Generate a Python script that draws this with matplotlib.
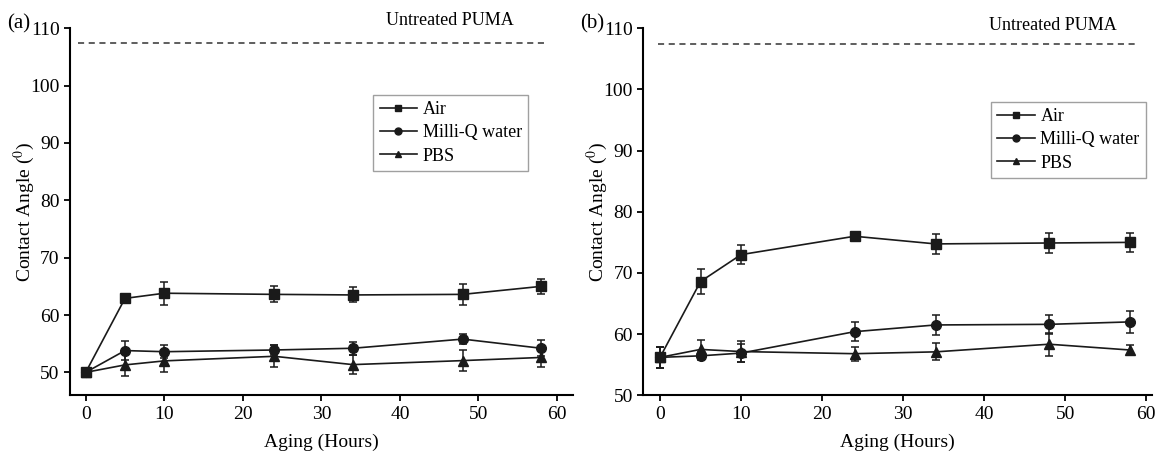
import matplotlib
matplotlib.use('Agg')
import matplotlib.pyplot as plt
from matplotlib.lines import Line2D
import numpy as np

plt.rcParams['font.family'] = ['Liberation Serif', 'DejaVu Serif']
plt.rcParams['mathtext.fontset'] = 'stix'

hours = [0, 5, 10, 24, 34, 48, 58]
labels = ['Air', 'Milli-Q water', 'PBS']
markers = ['s', 'o', '^']

# panel (a)
a_air = [50.0, 62.9, 63.8, 63.6, 63.5, 63.6, 65.0]
a_air_err = [0.6, 0.4, 2.0, 1.4, 1.3, 1.8, 1.35]
a_water = [50.0, 53.8, 53.6, 53.9, 54.2, 55.8, 54.2]
a_water_err = [0.6, 1.6, 1.1, 0.9, 1.1, 0.9, 1.4]
a_pbs = [50.0, 51.3, 52.0, 52.8, 51.35, 52.05, 52.6]
a_pbs_err = [0.6, 1.9, 1.9, 1.9, 1.7, 1.8, 1.75]

# panel (b)
b_air = [56.2, 68.6, 73.0, 76.0, 74.75, 74.9, 75.0]
b_air_err = [1.7, 2.0, 1.5, 0.4, 1.6, 1.6, 1.5]
b_water = [56.2, 56.45, 56.9, 60.4, 61.5, 61.6, 62.0]
b_water_err = [1.7, 0.7, 1.5, 1.55, 1.7, 1.5, 1.8]
b_pbs = [56.2, 57.5, 57.15, 56.8, 57.1, 58.35, 57.4]
b_pbs_err = [1.7, 1.6, 1.7, 1.15, 1.4, 1.85, 0.75]

untreated = 107.4

fig = plt.figure(figsize=(11.61, 4.53), dpi=100)
ax1 = fig.add_axes([0.0603, 0.1274, 0.433, 0.8101])
ax2 = fig.add_axes([0.5541, 0.1274, 0.4379, 0.8101])

panels = [
    (ax1, [a_air, a_water, a_pbs], [a_air_err, a_water_err, a_pbs_err],
     (-2, 62), (46, 110), (-1, 58.5), (46.3, 111.3), (7, '(a)'),
     (36.6, 98.4)),
    (ax2, [b_air, b_water, b_pbs], [b_air_err, b_water_err, b_pbs_err],
     (-2.06, 60.66), (50, 110), (-0.3, 58.6), (48.5, 110.4), (580, '(b)'),
     (40.8, 98.0)),
]

for ax, series, errs, xl, yl, dash, txt, tag, leg in panels:
    handles = []
    for vals, err, m, lab in zip(series, errs, markers, labels):
        ax.errorbar(hours, vals, yerr=err, marker=m, color='#1a1a1a',
                    markersize=7, linewidth=1.2, elinewidth=1.1,
                    capsize=3, capthick=1.1)
        handles.append(Line2D([], [], color='#1a1a1a', marker=m,
                              markersize=5, linewidth=1.2, label=lab))
    ax.plot(dash, [untreated, untreated], linestyle=(0, (4, 3)),
            color='#333333', linewidth=1.1)
    ax.text(txt[0], txt[1], 'Untreated PUMA', ha='center', va='center',
            fontsize=13)
    ax.set_xlim(*xl)
    ax.set_ylim(*yl)
    ax.set_xticks([0, 10, 20, 30, 40, 50, 60])
    ax.set_yticks(np.arange(50, 111, 10))
    ax.spines['top'].set_visible(False)
    ax.spines['right'].set_visible(False)
    ax.spines['left'].set_linewidth(1.5)
    ax.spines['bottom'].set_linewidth(1.5)
    ax.tick_params(direction='out', length=4, width=1.3, labelsize=14)
    ax.set_xlabel('Aging (Hours)', fontsize=14, labelpad=8)
    ax.set_ylabel(r'Contact Angle ($^{0}$)', fontsize=14, labelpad=-5)
    ax.legend(handles=handles, loc='upper left', bbox_to_anchor=leg,
              bbox_transform=ax.transData,
              fontsize=13, frameon=True, fancybox=False, edgecolor='#888888',
              handlelength=2.1, handletextpad=0.3, borderpad=0.35,
              labelspacing=0.35, borderaxespad=0)
    fig.text(tag[0] / 1161, 1 - 24 / 453, tag[1], ha='left', va='center',
             fontsize=15)

plt.savefig('out.png', dpi=100)
